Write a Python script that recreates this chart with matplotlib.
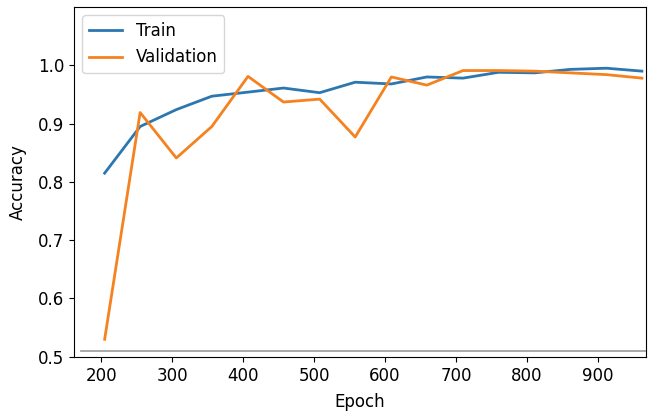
import matplotlib
matplotlib.use("Agg")
from matplotlib import pyplot as plt

# epochs
epochs = [205, 255, 306, 356, 407, 457, 508, 558, 609, 659, 710, 760, 811, 861, 912, 962]

train_acc = [0.815, 0.895, 0.924, 0.947, 0.954, 0.961, 0.953, 0.971,
             0.968, 0.980, 0.978, 0.988, 0.987, 0.993, 0.995, 0.990]
val_acc = [0.530, 0.919, 0.841, 0.895, 0.981, 0.937, 0.942, 0.877,
           0.980, 0.966, 0.991, 0.991, 0.990, 0.987, 0.984, 0.978]

xticks = [200, 300, 400, 500, 600, 700, 800, 900]
yticks = [0.5, 0.6, 0.7, 0.8, 0.9, 1.0]

fig = plt.figure(figsize=(6.56, 4.12), dpi=100)
ax = fig.add_axes([0.113, 0.134, 0.872, 0.849])

ax.plot(epochs, train_acc, color='#2c77b0', lw=2, label='Train')
ax.plot(epochs, val_acc, color='#f5821f', lw=2, label='Validation')

# faint grey rule near the bottom, as in the source image
ax.axhline(0.51, xmin=0.012, xmax=0.998, color='#999999', lw=1.2)

ax.set_xlim(162, 968)
ax.set_ylim(0.5, 1.1)
ax.set_xticks(xticks)
ax.set_yticks(yticks)
ax.tick_params(labelsize=12)
ax.set_xlabel('Epoch', fontsize=12, labelpad=6)
ax.set_ylabel('Accuracy', fontsize=12, labelpad=8)
ax.legend(loc='upper left', fontsize=12)

fig.savefig('out.png', dpi=100)
